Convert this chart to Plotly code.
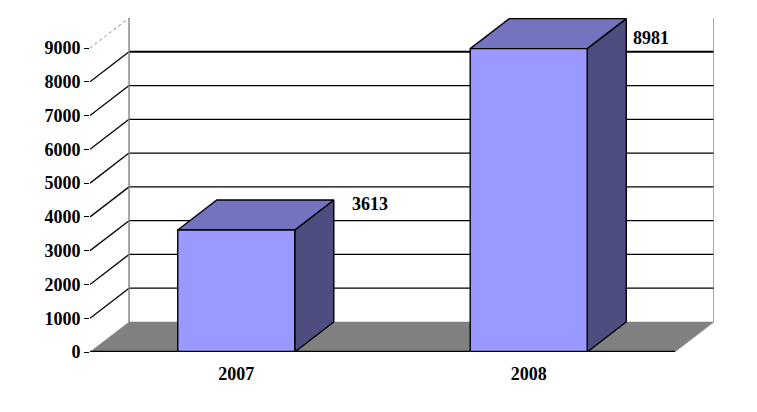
import plotly.graph_objects as go

categories = ["2007", "2008"]
values = [3613, 8981]
y_ticks = [0, 1000, 2000, 3000, 4000, 5000, 6000, 7000, 8000, 9000]

DX = 39 / 292      # depth of the 3-D box, in category units
DY = 889           # depth of the 3-D box, in value units
BAR = 0.4          # bar width, in category units
XMIN, XMAX = -0.5, 1.5
YMAX = 9000

FRONT = "#9999FF"
TOP = "#7373BF"
SIDE = "#4D4D80"
FLOOR = "#808080"
FONT = "Liberation Serif"

fig = go.Figure()


def line(xs, ys, color="black", width=1.2, dash="solid"):
    fig.add_trace(go.Scatter(x=xs, y=ys, mode="lines", hoverinfo="skip", showlegend=False,
                             cliponaxis=False, line=dict(color=color, width=width, dash=dash)))


def poly(xs, ys, fill, edge="black", width=1.4):
    fig.add_trace(go.Scatter(x=xs + xs[:1], y=ys + ys[:1], mode="lines", fill="toself",
                             fillcolor=fill, hoverinfo="skip", showlegend=False, cliponaxis=False,
                             line=dict(color=edge, width=width)))


# floor
poly([XMIN, XMAX, XMAX + DX, XMIN + DX], [0, 0, DY, DY], FLOOR, edge=FLOOR, width=0.5)

# gridlines: slanted on the side wall, flat on the back wall
for t in y_ticks[1:]:
    top = t == y_ticks[-1]
    line([XMIN, XMIN + DX], [t, t + DY],
         color="#8c8c8c" if top else "black", width=1 if top else 1.3,
         dash="dot" if top else "solid")
    if not top:
        line([XMIN + DX, XMAX + DX], [t + DY, t + DY],
             color="black", width=2.2 if t == y_ticks[-2] else 1.2)

# back wall edges
line([XMIN + DX, XMIN + DX], [DY, YMAX + DY], color="#808080", width=1.4)
line([XMAX + DX, XMAX + DX], [DY, YMAX + DY], color="#808080", width=1.4)

# bars
for i, v in enumerate(values):
    l, r = i - BAR / 2, i + BAR / 2
    poly([r, r + DX, r + DX, r], [0, DY, v + DY, v], SIDE)
    poly([l, r, r + DX, l + DX], [v, v, v + DY, v + DY], TOP)
    poly([l, r, r, l], [0, 0, v, v], FRONT)
    fig.add_annotation(x=r + DX, y=v + DY, text=f"<b>{v}</b>", showarrow=False,
                       xanchor="left", yanchor="middle", xshift=16 if i == 0 else 5,
                       yshift=-4 if i == 0 else -19,
                       font=dict(family=FONT, size=18, color="black"))

# floor front edge and end tick
line([XMIN, XMAX], [0, 0], width=2.4)
line([XMAX, XMAX], [0, -150], width=1.2)
line([XMAX, XMAX + DX], [0, DY], color="#b5b5b5", width=0.8)

fig.update_layout(
    width=741, height=396, autosize=False,
    margin=dict(l=82, r=35, t=10, b=52),
    paper_bgcolor="white", plot_bgcolor="white", showlegend=False,
    xaxis=dict(range=[XMIN, XMAX + DX], tickvals=[0, 1], ticktext=[f"<b>{c}</b>" for c in categories],
               showgrid=False, zeroline=False, showline=False, ticks="", ticklabelstandoff=9,
               tickfont=dict(family=FONT, size=18, color="black")),
    yaxis=dict(range=[0, YMAX + DY], tickvals=y_ticks, ticktext=[f"<b>{t}</b>" for t in y_ticks],
               showgrid=False, zeroline=False, showline=False, ticks="outside", ticklen=5,
               tickcolor="black", tickwidth=1.2, ticklabelstandoff=0,
               tickfont=dict(family=FONT, size=18, color="black")),
)

fig.write_html("out.html")
